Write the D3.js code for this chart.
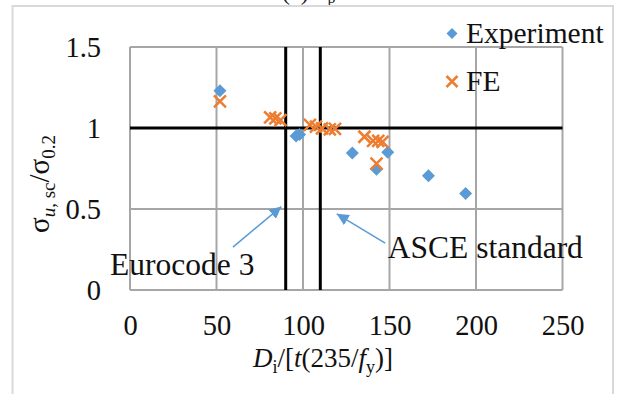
<!DOCTYPE html>
<html><head><meta charset="utf-8">
<script src="https://cdn.jsdelivr.net/npm/d3@7"></script>
<style>body{margin:0;background:#fff}svg{display:block}</style>
</head><body>
<script>
// ---- data ----
const expX = [52, 96, 98, 128.5, 142.5, 149, 172.5, 194];
const expY = [1.23, 0.95, 0.96, 0.845, 0.745, 0.85, 0.705, 0.595];
const feX = [52, 81, 84, 87, 104, 107.5, 111, 115.5, 118.5, 135.5, 140.5, 143.5, 146, 142.5];
const feY = [1.165, 1.065, 1.06, 1.048, 1.02, 1.008, 0.998, 0.992, 0.995, 0.946, 0.92, 0.92, 0.915, 0.78];
const xTicks = [0, 50, 100, 150, 200, 250];
const yTicks = [0, 0.5, 1, 1.5];
const limitX = [90, 110];          // Eurocode 3, ASCE
const refY = 1;
const seriesNames = ["Experiment", "FE"];
const annotLabels = ["Eurocode 3", "ASCE standard"];
const annotTail = [[59.5, 0.265], [147.5, 0.29]];
const annotTip = [[87.5, 0.515], [119.5, 0.47]];
const annotText = [[-11.5, 0.09], [149, 0.195]];

// ---- layout ----
const W = 624, H = 394;
const svg = d3.select("body").append("svg").attr("width", W).attr("height", H);
const x = d3.scaleLinear().domain([0, 250]).range([130, 562.5]);
const y = d3.scaleLinear().domain([0, 1.5]).range([290, 47]);
const font = "Liberation Serif, Times New Roman, serif";
const blue = "#5b9bd5", orange = "#ed7d31", grid = "#a6a6a6", ink = "#111";

// outer frame & clipped title
const tt = svg.append("text").attr("x", 282).attr("y", 0).style("font-family", font).style("font-size", "24px")
  .attr("fill", "#222").text("(c) σ");
tt.append("tspan").style("font-size", "16px").attr("dy", 3).text("p");
svg.append("rect").attr("x", 12.5).attr("y", 6).attr("width", 600.5).attr("height", 400)
  .attr("fill", "none").attr("stroke", "#d9d9d9").attr("stroke-width", 2);

// gridlines
const g = svg.append("g");
g.selectAll(".vg").data(xTicks).join("line")
  .attr("x1", d => x(d)).attr("x2", d => x(d)).attr("y1", y(0)).attr("y2", y(1.5))
  .attr("stroke", grid).attr("stroke-width", 2);
g.selectAll(".hg").data(yTicks).join("line")
  .attr("x1", x(0)).attr("x2", x(250)).attr("y1", d => y(d)).attr("y2", d => y(d))
  .attr("stroke", grid).attr("stroke-width", 2);

// axes labels via d3 axes
const xAxis = svg.append("g").attr("transform", `translate(0,${y(0)})`)
  .call(d3.axisBottom(x).tickValues(xTicks).tickSize(0).tickPadding(25).tickFormat(d3.format("d")));
const yAxis = svg.append("g").attr("transform", `translate(${x(0)},0)`)
  .call(d3.axisLeft(y).tickValues(yTicks).tickSize(0).tickPadding(29).tickFormat(d => d));
[xAxis, yAxis].forEach(a => {
  a.select(".domain").remove();
  a.attr("font-family", null).attr("font-size", null);
  a.selectAll("text").style("font-family", font).style("font-size", "28.5px").attr("fill", ink);
});
yAxis.selectAll("text").attr("dy", "0.34em");
xAxis.selectAll("text").attr("dy", "0.71em");

// reference lines
svg.append("line").attr("x1", x(0)).attr("x2", x(250)).attr("y1", y(refY)).attr("y2", y(refY))
  .attr("stroke", "#000").attr("stroke-width", 3);
svg.selectAll(".lim").data(limitX).join("line")
  .attr("x1", d => x(d)).attr("x2", d => x(d)).attr("y1", y(0)).attr("y2", y(1.5))
  .attr("stroke", "#000").attr("stroke-width", 3);

// markers
const diamond = (cx, cy, r) => `M${cx},${cy - r}L${cx + r},${cy}L${cx},${cy + r}L${cx - r},${cy}Z`;
const cross = (cx, cy, r) => `M${cx - r},${cy - r}L${cx + r},${cy + r}M${cx - r},${cy + r}L${cx + r},${cy - r}`;
svg.selectAll(".exp").data(d3.range(expX.length)).join("path")
  .attr("d", i => diamond(x(expX[i]), y(expY[i]), 6.5)).attr("fill", blue);
svg.selectAll(".fe").data(d3.range(feX.length)).join("path")
  .attr("d", i => cross(x(feX[i]), y(feY[i]), 6)).attr("stroke", orange).attr("stroke-width", 2.5).attr("fill", "none");

// legend
const lg = svg.append("g");
lg.append("path").attr("d", diamond(452, 33.5, 5.5)).attr("fill", blue);
lg.append("path").attr("d", cross(452, 81.5, 5.5)).attr("stroke", orange).attr("stroke-width", 2.5).attr("fill", "none");
lg.selectAll("text").data(seriesNames).join("text")
  .attr("x", 466).attr("y", (d, i) => 43 + i * 48).style("font-family", font).style("font-size", "29.5px")
  .attr("fill", ink).text(d => d);

// annotations
svg.append("defs").append("marker").attr("id", "ah").attr("viewBox", "0 0 10 10").attr("refX", 10).attr("refY", 5)
  .attr("markerWidth", 12).attr("markerHeight", 12).attr("markerUnits", "userSpaceOnUse").attr("orient", "auto")
  .append("path").attr("d", "M0,0L10,5L0,10Z").attr("fill", blue);
svg.selectAll(".arr").data(d3.range(annotLabels.length)).join("line")
  .attr("x1", i => x(annotTail[i][0])).attr("y1", i => y(annotTail[i][1]))
  .attr("x2", i => x(annotTip[i][0])).attr("y2", i => y(annotTip[i][1]))
  .attr("stroke", blue).attr("stroke-width", 1.5).attr("marker-end", "url(#ah)");
svg.selectAll(".atx").data(d3.range(annotLabels.length)).join("text")
  .attr("x", i => x(annotText[i][0])).attr("y", i => y(annotText[i][1]))
  .style("font-family", font).style("font-size", "31.5px").attr("fill", ink).text(i => annotLabels[i]);

// axis titles
const xt = svg.append("text").attr("x", 323).attr("y", 367).attr("text-anchor", "middle")
  .style("font-family", font).style("font-size", "27px").attr("fill", ink);
xt.append("tspan").style("font-style", "italic").text("D");
xt.append("tspan").style("font-size", "18px").attr("dy", 6).text("i");
xt.append("tspan").attr("dy", -6).text("/[");
xt.append("tspan").style("font-style", "italic").text("t");
xt.append("tspan").text("(235/");
xt.append("tspan").style("font-style", "italic").text("f");
xt.append("tspan").style("font-size", "18px").attr("dy", 6).text("y");
xt.append("tspan").attr("dy", -6).text(")]");

const yt = svg.append("text").attr("transform", "translate(49,184) rotate(-90)").attr("text-anchor", "middle")
  .style("font-family", font).style("font-size", "29px").attr("fill", ink);
yt.append("tspan").text("σ");
yt.append("tspan").style("font-size", "19px").attr("dy", 6).style("font-style", "italic").text("u");
yt.append("tspan").style("font-size", "19px").text(", sc");
yt.append("tspan").attr("dy", -6).text("/σ");
yt.append("tspan").style("font-size", "19px").attr("dy", 6).text("0.2");
</script>
</body></html>
